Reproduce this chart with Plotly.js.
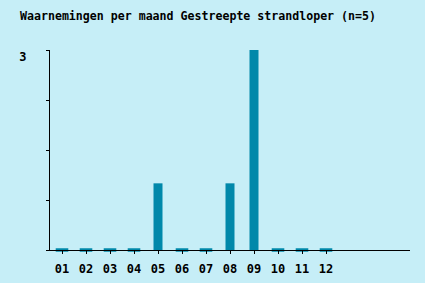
<!DOCTYPE html>
<html><head><meta charset="utf-8">
<script src="https://cdn.plot.ly/plotly-3.0.1.min.js"></script>
<style>html,body{margin:0;padding:0;background:#C6EEF7;}</style>
</head><body>
<div id="chart" style="width:425px;height:283px;"></div>
<script>
const months = ["01","02","03","04","05","06","07","08","09","10","11","12"];
const counts = [0,0,0,0,1,0,0,1,3,0,0,0];
const yTickVals = [0,0.75,1.5,2.25,3];
const yTickText = ["","","","","3"];
const titleText = "Waarnemingen per maand Gestreepte strandloper (n=5)";

const barColor = "#0088AA";
const zeroX = months.filter((m,i)=>counts[i]===0);
const zeroY = zeroX.map(()=>0);

const traces = [
  {type:"bar", x:months, y:counts, marker:{color:barColor}, width:0.375, hoverinfo:"none"},
  {type:"scatter", mode:"markers", x:zeroX, y:zeroY, cliponaxis:false,
   marker:{symbol:"line-ew", size:9, line:{width:3.5, color:barColor}}, hoverinfo:"none"}
];
const layout = {
  width:425, height:283,
  paper_bgcolor:"#C6EEF7", plot_bgcolor:"#C6EEF7",
  margin:{l:50, r:15, t:50, b:33},
  showlegend:false,
  title:{text:titleText, x:20/425, xanchor:"left", y:1-16/283, yanchor:"middle",
    font:{family:"DejaVu Sans Mono", size:11.6, color:"#000", weight:"bold"}},
  font:{family:"DejaVu Sans Mono", color:"#000"},
  xaxis:{type:"category", range:[-0.5,14.5], showgrid:false, zeroline:false,
    showline:true, linecolor:"#000", linewidth:1, ticks:"outside", ticklen:3, tickcolor:"#000",
    tickfont:{family:"DejaVu Sans Mono", size:12, color:"#000", weight:"bold"}, ticklabelstandoff:5, fixedrange:true},
  yaxis:{range:[0,3], tickvals:yTickVals, ticktext:yTickText, showgrid:false, zeroline:false,
    showline:true, linecolor:"#000", linewidth:1, ticks:"outside", ticklen:3, tickcolor:"#000",
    tickfont:{family:"DejaVu Sans Mono", size:12, color:"#000", weight:"bold"}, ticklabelstandoff:17,
    ticklabelshift:7, fixedrange:true}
};
Plotly.newPlot("chart", traces, layout, {displayModeBar:false, staticPlot:true});
</script>
</body></html>
